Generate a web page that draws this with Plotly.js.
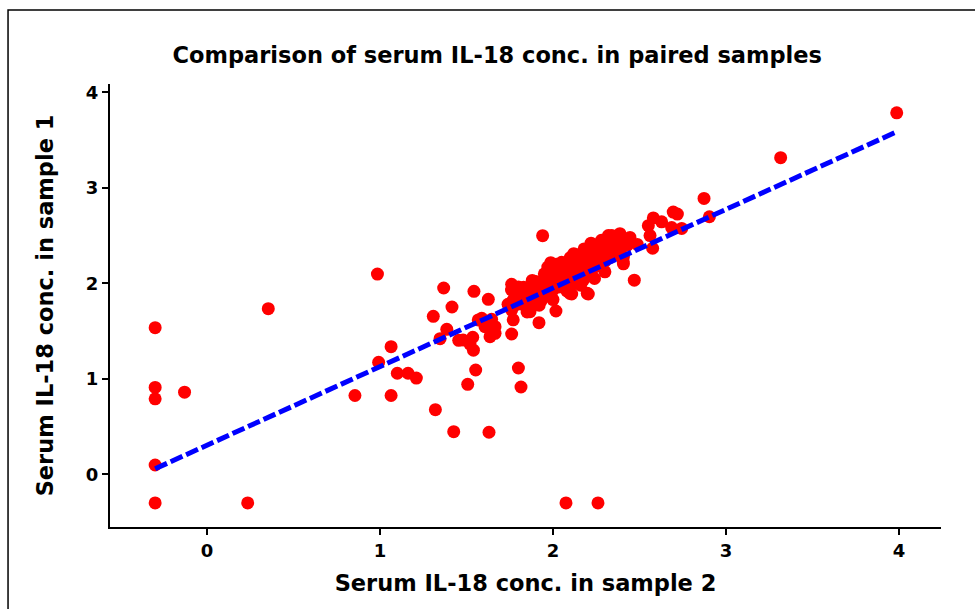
<!DOCTYPE html>
<html>
<head>
<meta charset="utf-8">
<script src="https://cdn.plot.ly/plotly-3.0.1.min.js"></script>
<style>html,body{margin:0;padding:0;background:#fff;}#chart{width:975px;height:609px;}</style>
</head>
<body>
<div id="chart"></div>
<script>
// Serum IL-18 conc. in sample 2 (x) vs sample 1 (y)
const sample2 = [
  -0.30,-0.30,-0.30,-0.13,-0.30,-0.30,0.235,0.354,0.985,1.064,0.992,1.100,1.162,1.210,0.855,1.064,1.320,1.426,1.63,2.075,2.26,1.553,1.507,1.80,1.815,
  1.368,1.543,1.416,1.308,1.568,1.386,1.347,1.455,1.536,1.52,1.54,1.48,
  1.940,1.987,2.089,1.626,1.761,1.83,1.77,1.761,1.77,1.867,1.919,2.017,2.098,2.198,1.588,1.645,1.665,1.607,1.636,1.665,1.761,1.935,1.973,
  2.32,2.387,2.445,2.487,2.561,2.551,2.58,2.628,2.686,2.695,2.719,2.744,2.576,2.470,2.873,2.904,3.316,3.987,2.407,2.407,2.311,2.368,2.406,2.204,2.108,2.098,2.176,
  1.76,1.78,1.79,1.81,1.82,1.83,1.84,1.85,1.86,1.87,1.88,1.89,1.90,1.91,1.92,1.93,1.94,1.95,1.96,1.97,1.98,1.99,2.00,2.01,2.02,2.03,2.04,2.05,2.06,2.07,
  2.08,2.09,2.10,2.11,2.12,2.13,2.14,2.15,2.16,2.17,2.18,2.19,2.20,2.21,2.22,2.23,2.24,2.25,2.26,2.27,2.28,2.29,2.30,2.31,2.32,2.33,2.34,2.35,2.36,2.38,
  2.39,2.41,2.43,1.90,1.95,2.00,2.05,2.10,2.15,2.20,2.25,1.85,1.92,2.00,2.08,2.16,2.24,2.30,1.80,1.74,1.88,
  2.12,2.18,2.22,2.28,2.34,2.02,1.97
];
const sample1 = [
  1.535,0.91,0.79,0.86,0.097,-0.30,-0.30,1.734,2.097,1.336,1.173,1.058,1.058,1.008,0.825,0.825,0.677,0.446,0.44,-0.30,-0.30,1.092,0.942,1.113,0.914,
  1.951,1.916,1.752,1.654,1.616,1.518,1.420,1.403,1.435,1.364,1.30,1.406,
  2.499,2.216,2.199,1.832,1.99,1.958,1.825,1.72,1.617,1.703,1.588,1.710,1.895,1.895,1.633,1.623,1.546,1.546,1.441,1.476,1.469,1.825,1.895,
  2.50,2.52,2.48,2.407,2.50,2.603,2.685,2.644,2.583,2.746,2.725,2.575,2.367,2.033,2.889,2.697,3.316,3.785,2.277,2.204,2.419,2.401,2.226,1.888,1.888,1.964,2.035,
  1.93,1.85,1.78,1.90,1.83,1.95,1.76,1.88,1.81,1.93,1.86,1.97,1.90,1.84,2.00,1.93,1.87,2.03,1.96,1.90,2.06,1.99,1.93,2.09,2.02,1.96,2.12,2.05,1.99,2.14,
  2.08,2.02,2.17,2.11,2.05,2.20,2.14,2.08,2.23,2.17,2.11,2.26,2.20,2.14,2.29,2.23,2.17,2.32,2.26,2.20,2.35,2.29,2.23,2.38,2.32,2.27,2.41,2.35,2.30,2.44,
  2.37,2.46,2.40,2.02,2.10,2.15,2.22,2.27,2.30,2.33,2.38,1.70,1.77,1.83,1.92,1.98,2.05,2.12,1.96,1.78,2.03,
  2.31,2.36,2.42,2.45,2.50,2.20,2.17
];
// regression line end points
const fitX = [-0.30, 3.985];
const fitY = [0.058, 3.585];

const xTicks = [0, 1, 2, 3, 4];
const yTicks = [0, 1, 2, 3, 4];

const boldFont = {family: 'DejaVu Sans, Verdana, sans-serif', color: '#000', weight: 'bold'};

const traces = [
  {
    x: sample2, y: sample1, type: 'scatter', mode: 'markers',
    marker: {color: '#FF0000', size: 13, line: {width: 0}},
    showlegend: false, hoverinfo: 'skip'
  },
  {
    x: fitX, y: fitY, type: 'scatter', mode: 'lines',
    line: {color: '#0000FF', width: 5, dash: '13px,4px'},
    showlegend: false, hoverinfo: 'skip'
  }
];

const layout = {
  width: 975, height: 609,
  margin: {l: 110, r: 34, t: 84, b: 82, pad: 0},
  paper_bgcolor: '#fff', plot_bgcolor: '#fff',
  title: {
    text: 'Comparison of serum IL-18 conc. in paired samples',
    font: Object.assign({size: 22.5}, boldFont),
    x: 0.51, xref: 'container', xanchor: 'center',
    y: 0.91, yref: 'container', yanchor: 'middle'
  },
  xaxis: {
    range: [-0.561, 4.243], tickvals: xTicks, ticktext: xTicks.map(String),
    showgrid: false, zeroline: false, showline: true, linecolor: '#000', linewidth: 2,
    ticks: 'outside', ticklen: 6, tickwidth: 2, tickcolor: '#000',
    tickfont: Object.assign({size: 18}, boldFont),
    title: {text: 'Serum IL-18 conc. in sample 2', font: Object.assign({size: 22.5}, boldFont), standoff: 16}
  },
  yaxis: {
    range: [-0.552, 4.087], tickvals: yTicks, ticktext: yTicks.map(String),
    showgrid: false, zeroline: false, showline: true, linecolor: '#000', linewidth: 2,
    ticks: 'outside', ticklen: 6, tickwidth: 2, tickcolor: '#000',
    tickfont: Object.assign({size: 18}, boldFont),
    title: {text: '\u00a0\u00a0\u00a0Serum IL-18 conc. in sample 1', font: Object.assign({size: 22.5}, boldFont), standoff: 26}
  },
  shapes: [
    {type: 'rect', xref: 'paper', yref: 'paper', x0: -0.1227, x1: 2, y0: -1, y1: 1.167,
     line: {color: '#000', width: 1.5}, fillcolor: 'rgba(0,0,0,0)', layer: 'below'}
  ]
};

Plotly.newPlot('chart', traces, layout, {staticPlot: true, displayModeBar: false});
</script>
</body>
</html>
